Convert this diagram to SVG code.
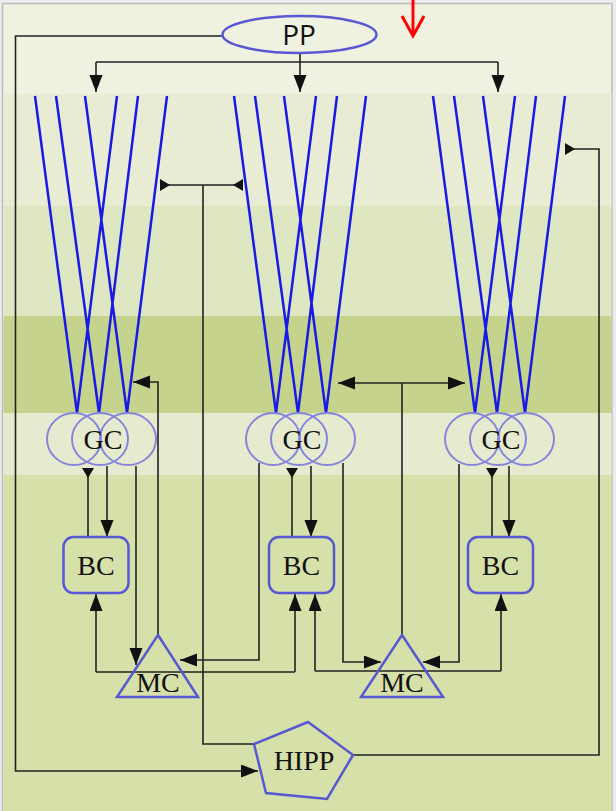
<svg xmlns="http://www.w3.org/2000/svg" width="616" height="811" viewBox="0 0 616 811">
<style>
.lbl{font-family:"Liberation Serif","Times New Roman",serif;font-size:28px;fill:#111;text-anchor:middle}
.pp{font-family:"Open Sans","DejaVu Sans",sans-serif;font-size:28px;fill:#111;text-anchor:middle}
.fib{stroke:#1a1ae6;stroke-width:2.5;fill:none}
.gc{fill:none;stroke:#8585dc;stroke-width:2}
.node{fill:none;stroke:#5858d2;stroke-width:2.5}
.con{fill:none;stroke:#222;stroke-width:1.6}
.a{marker-end:url(#arr)}
.i{marker-end:url(#inh)}
</style>
<defs>
<marker id="arr" markerUnits="userSpaceOnUse" markerWidth="18" markerHeight="14" refX="17" refY="6.5" orient="auto">
<path d="M0,0 L17,6.5 L0,13 z" fill="#111"/>
</marker>
<marker id="inh" markerUnits="userSpaceOnUse" markerWidth="11" markerHeight="13" refX="10" refY="6" orient="auto">
<path d="M10,0 L10,12 L0,6 z" fill="#111"/>
</marker>
</defs>
<!-- background -->
<rect x="0" y="0" width="616" height="811" fill="#ececec"/>
<rect x="2.5" y="3.5" width="609.5" height="808" fill="#eff2e1" stroke="#bdbdbd" stroke-width="1.5"/>
<rect x="3.5" y="94" width="608" height="112" fill="#e7ecd3"/>
<rect x="3.5" y="206" width="608" height="110" fill="#dee6c2"/>
<rect x="3.5" y="316" width="608" height="97" fill="#c6d38c"/>
<rect x="3.5" y="413" width="608" height="62" fill="#e6ebcf"/>
<rect x="3.5" y="475" width="608" height="336" fill="#d6e0a9"/>
<!-- red annotation arrow -->
<g id="red-arrow" stroke="#ff0000" stroke-width="3" fill="none">
<path d="M413,0 V35"/>
<path d="M402,16 L413,36 L424,16"/>
</g>
<!-- fibers -->
<g id="fibers">
<path class="fib" d="M35,96 L77,413 L117,96 M56,96 L99,413 L138,96 M85,96 L127,413 L167,96"/>
<path class="fib" d="M234,96 L276,413 L316,96 M255,96 L298,413 L337,96 M284,96 L326,413 L366,96"/>
<path class="fib" d="M433,96 L475,413 L515,96 M454,96 L497,413 L536,96 M483,96 L525,413 L565,96"/>
</g>
<!-- connectors -->
<g id="connectors">
<path class="con" d="M300,53 V62 M96,62 H498"/>
<path class="con a" d="M96,62 V92"/>
<path class="con a" d="M300,62 V92"/>
<path class="con a" d="M498,62 V92"/>
<path class="con a" d="M222,36 H15.5 V771 H258"/>
<path class="con" d="M255,744 H203 V185"/>
<path class="con i" d="M203,185 H160"/>
<path class="con i" d="M203,185 H243"/>
<path class="con i" d="M353,755 H599 V149 H565"/>
<!-- group 1 -->
<path class="con i" d="M88,537 V468"/>
<path class="con a" d="M107,466 V537"/>
<path class="con a" d="M136,466 V665"/>
<path class="con a" d="M158,636 V382 H133"/>
<path class="con" d="M96,672 H295"/>
<path class="con a" d="M96,672 V594"/>
<path class="con a" d="M295,672 V594"/>
<!-- group 2 -->
<path class="con i" d="M292,537 V468"/>
<path class="con a" d="M311,466 V537"/>
<path class="con a" d="M259,463 V660 H180"/>
<path class="con a" d="M343,463 V662 H381"/>
<path class="con" d="M402,636 V383"/>
<path class="con a" d="M402,383 H338"/>
<path class="con a" d="M402,383 H465"/>
<path class="con" d="M315,671 H501"/>
<path class="con a" d="M315,671 V594"/>
<path class="con a" d="M501,671 V594"/>
<!-- group 3 -->
<path class="con i" d="M492,537 V468"/>
<path class="con a" d="M509,466 V537"/>
<path class="con a" d="M459,464 V662 H423"/>
</g>
<!-- nodes -->
<g id="PP">
<ellipse class="node" cx="299.5" cy="34.5" rx="77" ry="18.5" stroke="#5a5ad6"/>
<text class="pp" x="299" y="45">PP</text>
</g>
<g id="GC1">
<ellipse class="gc" cx="74" cy="439" rx="27" ry="26"/>
<ellipse class="gc" cx="100" cy="439" rx="28" ry="26"/>
<ellipse class="gc" cx="128" cy="439" rx="28" ry="26"/>
<text class="lbl" x="103" y="449">GC</text>
</g>
<g id="GC2">
<ellipse class="gc" cx="273" cy="439" rx="27" ry="26"/>
<ellipse class="gc" cx="299" cy="439" rx="28" ry="26"/>
<ellipse class="gc" cx="327" cy="439" rx="28" ry="26"/>
<text class="lbl" x="302" y="449">GC</text>
</g>
<g id="GC3">
<ellipse class="gc" cx="472" cy="439" rx="27" ry="26"/>
<ellipse class="gc" cx="498" cy="439" rx="28" ry="26"/>
<ellipse class="gc" cx="526" cy="439" rx="28" ry="26"/>
<text class="lbl" x="501" y="449">GC</text>
</g>
<g id="BC1">
<rect class="node" x="63.5" y="537" width="65" height="56" rx="10"/>
<text class="lbl" x="96" y="575">BC</text>
</g>
<g id="BC2">
<rect class="node" x="269" y="537" width="65" height="56" rx="10"/>
<text class="lbl" x="301.5" y="575">BC</text>
</g>
<g id="BC3">
<rect class="node" x="468" y="537" width="65" height="56" rx="10"/>
<text class="lbl" x="500.5" y="575">BC</text>
</g>
<g id="MC1">
<path class="node" d="M158,635 L198,697 L117,697 z"/>
<text class="lbl" x="158" y="692">MC</text>
</g>
<g id="MC2">
<path class="node" d="M402,635 L443,697 L361,697 z"/>
<text class="lbl" x="402" y="692">MC</text>
</g>
<g id="HIPP">
<path class="node" d="M308,722 L353,755 L327,799 L266,793 L254,744 z"/>
<text class="lbl" x="304" y="770">HIPP</text>
</g>
</svg>
